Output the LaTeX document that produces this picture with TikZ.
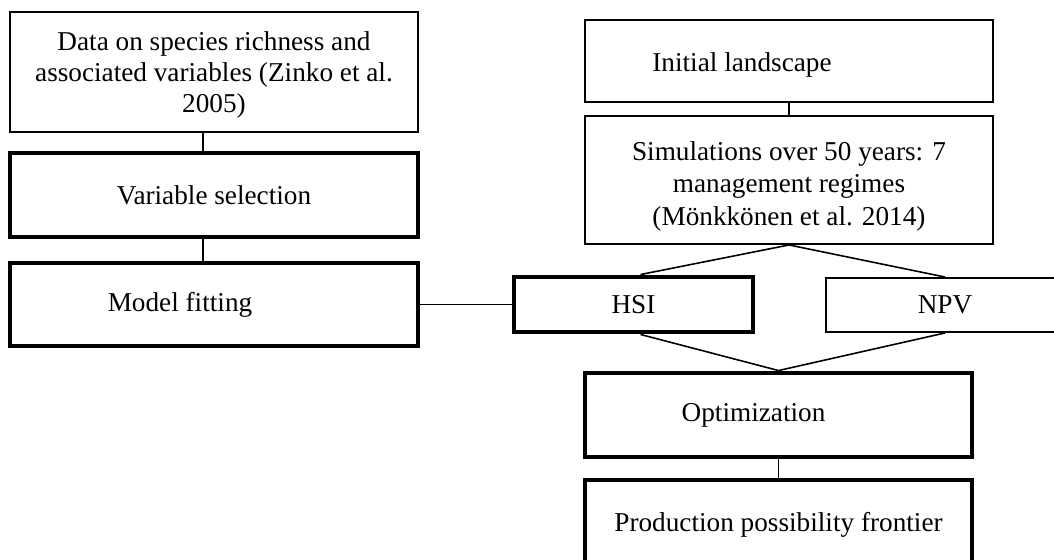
\documentclass[tikz,border=0pt]{standalone}
\usepackage{fontspec}
\setmainfont{Liberation Serif}
\newcommand{\pxu}{0.02cm}

\begin{document}
\begin{tikzpicture}[x=0.02cm,y=-0.02cm,
  thinbox/.style={draw,line width=1.1pt,minimum width=408*\pxu,align=center,inner sep=0pt},
  thickbox/.style={draw,line width=2.8pt,minimum width=408*\pxu,align=center,inner sep=0pt},
  link/.style={line width=0.9pt},
  txt/.style={font=\fontsize{15.5}{17.5}\selectfont}]
\useasboundingbox (0,0) rectangle (1054,560);
\clip (0,0) rectangle (1054,560);
% left column: data and statistical model
\node[thinbox,txt,minimum height=120*\pxu,text depth=-4*\pxu] (data) at (214,72)
  {Data on species richness and\\associated variables (Zinko et al.\\2005)};
\node[thickbox,txt,minimum height=84*\pxu] (varsel) at (214,195) {Variable selection};
\node[thickbox,minimum height=83*\pxu,
  label={[txt,xshift=-34*\pxu]center:Model fitting}] (fit) at (214,304.5) {};
% right column: landscape simulations
\node[thinbox,minimum height=82*\pxu,
  label={[txt,xshift=-47*\pxu,yshift=-4*\pxu]center:Initial landscape}] (init) at (789,61) {};
\node[thinbox,minimum height=128*\pxu,
  label={[font=\fontsize{15.5}{18.5}\selectfont,align=center,yshift=-6*\pxu]center:Simulations over 50 years: 7\\management regimes\\(Mönkkönen et al. 2014)}] (sim) at (789,180) {};
% indicators
\node[thickbox,txt,minimum width=239*\pxu,minimum height=55*\pxu] (hsi) at (633.5,304.5) {HSI};
\node[thinbox,txt,minimum width=238*\pxu,minimum height=54*\pxu] (npv) at (945,305) {NPV};
% optimization and frontier
\node[thickbox,minimum width=387*\pxu,minimum height=84*\pxu,
  label={[txt,xshift=-25*\pxu]center:Optimization}] (opt) at (778.5,415) {};
\node[thickbox,txt,minimum width=387*\pxu,minimum height=90*\pxu] (ppf) at (778.5,525)
  {Production possibility frontier};
% connectors
\draw[link] ([xshift=-11*\pxu]data.south) -- ([xshift=-11*\pxu]varsel.north);
\draw[link] ([xshift=-11*\pxu]varsel.south) -- ([xshift=-11*\pxu]fit.north);
\draw[link] (fit.east) -- (hsi.west);
\draw[link] (init.south) -- (sim.north);
\draw[link] (sim.south) -- ([xshift=7*\pxu]hsi.north);
\draw[link] (sim.south) -- (npv.north);
\draw[link] ([xshift=7*\pxu]hsi.south) -- (opt.north);
\draw[link] (npv.south) -- (opt.north);
\draw[link] (opt.south) -- (ppf.north);
\end{tikzpicture}
\end{document}
